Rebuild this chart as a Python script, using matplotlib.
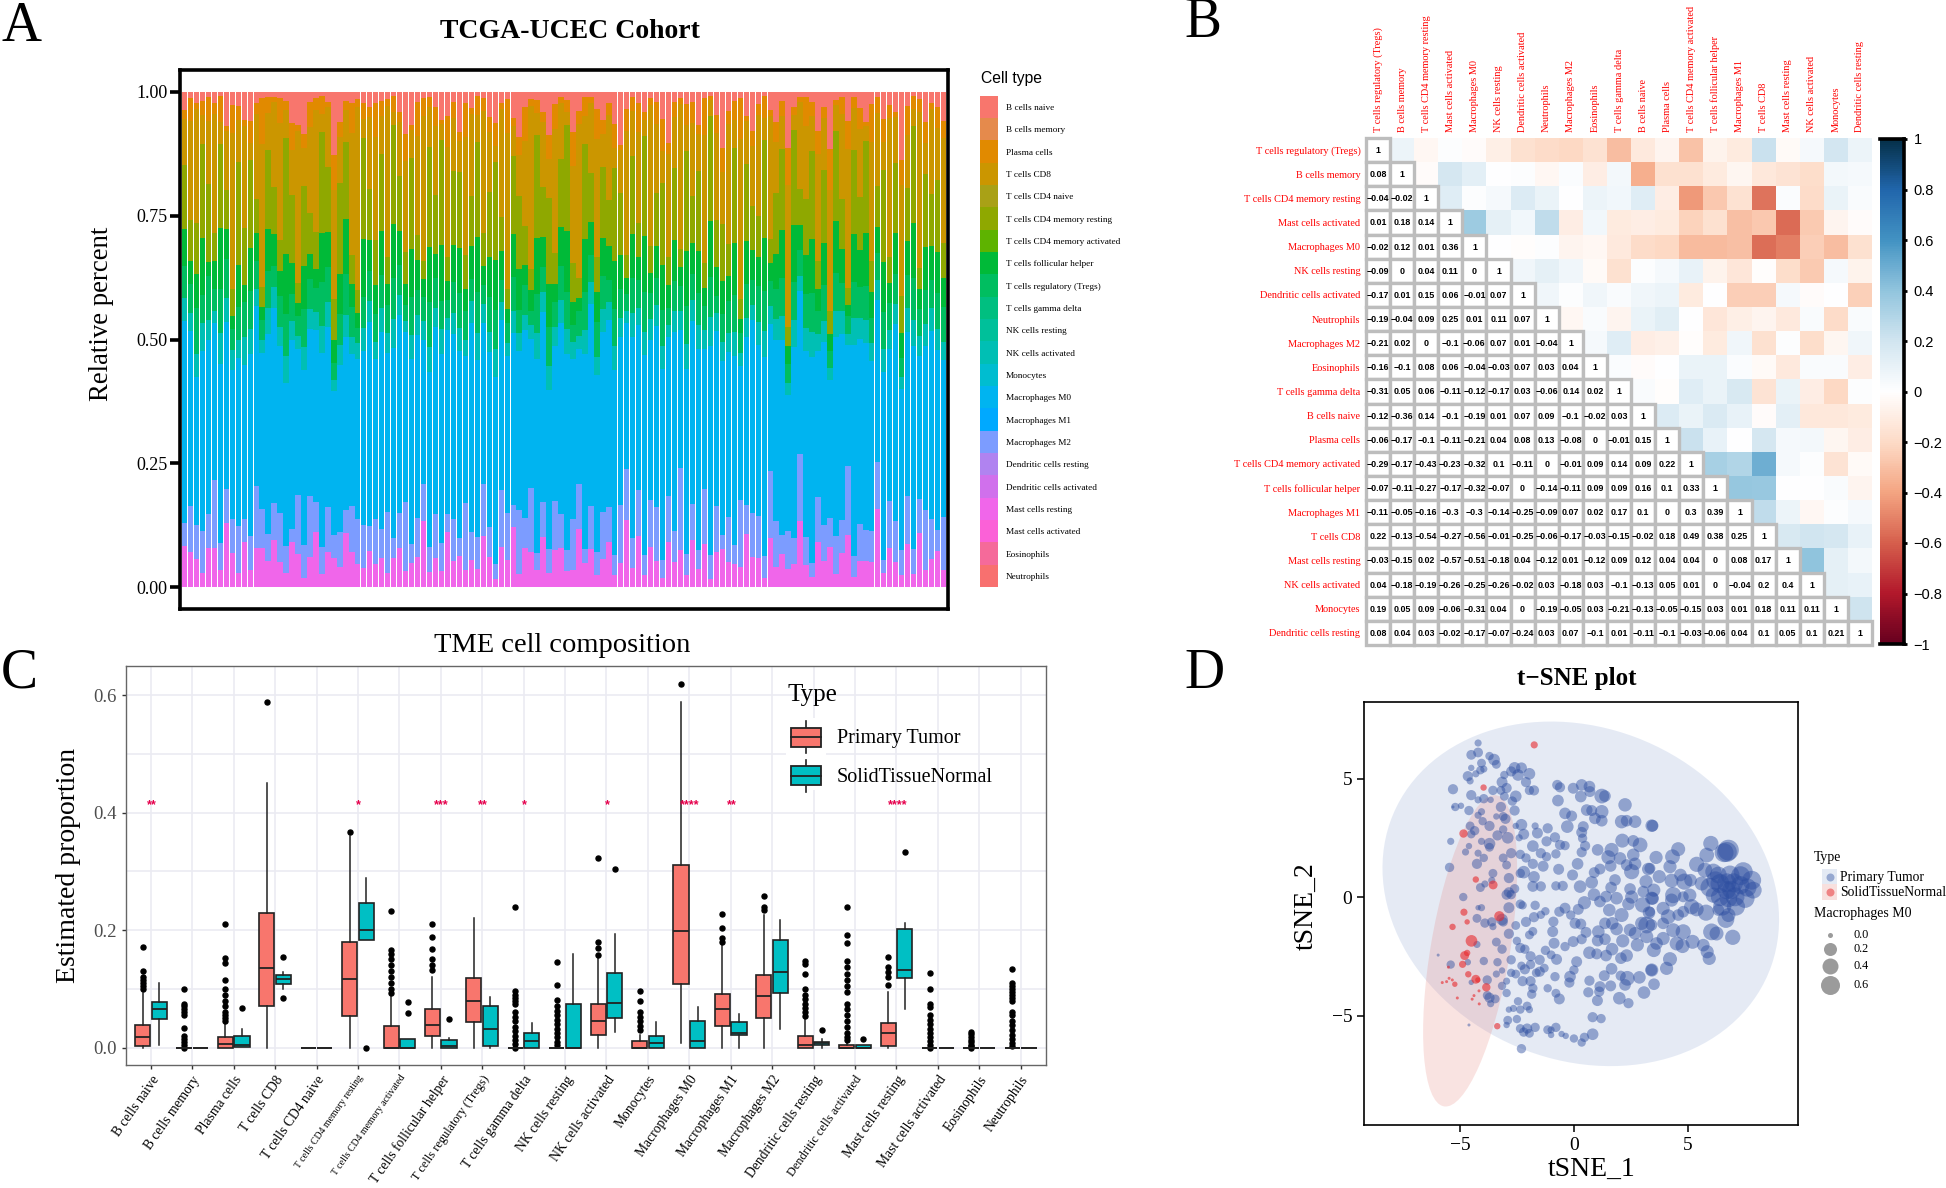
import numpy as np
import matplotlib
matplotlib.use('Agg')
import matplotlib.pyplot as plt
from matplotlib.colors import LinearSegmentedColormap, Normalize
from matplotlib.cm import ScalarMappable
from matplotlib.patches import Rectangle, Ellipse

plt.rcParams['font.family'] = ['Liberation Serif', 'DejaVu Serif']
SANS = 'Liberation Sans'
W, H = 1946, 1188

# ---- panel A: relative percent per sample (estimated by eye, normalised on drawing)
stack_names = ['B cells naive', 'Plasma cells', 'T cells CD8', 'T cells CD4 memory resting', 'T cells follicular helper',
               'T cells regulatory (Tregs)', 'NK cells activated', 'Macrophages M0', 'Macrophages M2', 'Mast cells resting']
b_naive = [4,1,2,2,1,2,1,7,2,3,5,7,2,1,1,1,1,2,7,5,9,2,1,1,2,11,6,2,2,1,3,3,
           2,2,1,1,4,8,7,2,1,1,3,7,4,2,9,2,3,1,1,5,8,2,1,6,10,3,1,2,4,9,2,1,
           2,7,3,1,1,3,6,2,8,11,3,1,2,5,1,2,6,9,2,1,3,2,7,1,1,4,12,3,2,1,5,8,
           2,1,3,6,2,9,4,1,1,2,7,3,10,2,1,5,1,3,8,2,1,6,2,4,11,3,1,1,7,2,3,5]
plasma = [2,4,1,3,5,2,6,1,4,3,1,5,2,7,3,1,4,2,6,1,3,5,2,4,1,6,3,2,5,1,4,2,
          6,3,1,4,2,5,1,7,3,2,4,1,5,3,2,6,1,4,2,3,6,1,5,2,4,7,1,3,2,5,4,1,
          3,6,2,4,1,5,3,2,6,1,4,3,5,2,1,4,7,2,3,1,5,4,2,6,1,3,5,2,4,6,1,3,
          2,5,1,4,3,6,2,1,5,3,4,2,7,1,3,5,2,4,1,6,3,5,2,1,4,6,3,2,5,1,4,3]
t_cd8 = [10,17,20,6,13,21,5,12,23,9,18,4,15,22,7,16,19,6,10,23,8,17,20,4,12,19,9,7,21,24,5,14,
         18,8,22,3,11,17,6,20,24,8,14,4,18,10,7,21,15,6,19,12,4,19,23,7,9,17,23,5,13,8,20,10,
         3,17,24,6,13,20,7,15,5,9,22,9,16,4,21,13,7,18,10,23,6,14,8,21,4,15,11,19,6,24,9,12,
         17,5,20,10,7,23,4,17,13,7,19,10,21,6,15,24,8,13,4,19,14,6,21,9,18,11,4,23,7,15,10,18]
cd4_rest = [14,7,9,20,16,5,19,8,4,22,10,21,6,3,15,9,5,25,15,3,17,8,6,23,13,7,18,17,5,3,26,10,
            8,16,4,24,11,6,19,5,3,20,12,26,4,14,17,6,9,21,5,13,25,6,3,18,16,8,3,24,10,18,5,12,
            26,7,3,20,9,6,15,8,23,13,4,16,6,25,4,10,18,5,14,3,24,9,17,4,26,8,12,5,20,3,16,9,
            7,22,4,12,17,3,25,7,10,18,5,14,4,21,9,3,16,10,24,5,8,20,4,14,6,11,23,3,17,9,14,6]
tfh = [8,4,6,12,3,5,14,6,2,9,3,10,5,2,8,6,4,13,7,2,9,5,3,11,7,4,8,12,4,2,15,6,
       5,9,3,13,7,4,10,6,3,11,5,14,3,7,10,4,6,12,3,8,13,5,2,10,9,4,3,13,6,9,3,7,
       15,4,2,11,6,5,8,6,12,7,3,9,4,14,3,6,10,4,8,3,13,6,9,3,14,5,7,4,11,2,9,6,
       5,12,3,7,10,3,15,5,7,11,4,8,3,12,6,2,9,7,14,4,5,11,3,8,4,7,13,3,10,6,8,5]
tregs = [7,5,8,6,9,4,10,8,3,7,6,9,5,3,7,4,5,9,6,3,8,6,4,10,7,3,6,9,5,2,8,6,
         5,7,4,10,6,3,8,5,4,9,6,7,3,6,8,5,4,9,3,7,10,4,3,8,5,6,2,9,5,8,4,6,
         9,3,4,8,5,6,7,4,9,6,3,7,5,10,4,5,8,3,6,4,9,5,7,4,10,3,6,5,8,3,7,5,
         6,9,4,6,8,3,10,5,6,8,4,7,3,9,5,3,7,6,9,4,5,8,4,6,3,7,10,4,8,5,7,6]
nk_act = [5,3,4,6,4,2,7,5,3,4,5,6,3,2,5,4,3,6,4,2,5,4,3,6,5,2,4,5,3,2,6,4,
          3,5,3,7,4,2,5,4,3,5,4,6,2,4,5,3,4,6,3,4,7,3,2,5,4,3,2,6,4,5,3,4,
          6,3,2,5,4,3,5,3,6,4,2,5,3,6,3,4,5,2,4,3,6,4,5,3,7,3,4,3,5,2,4,3,
          4,6,3,4,5,2,7,3,4,5,3,4,2,6,4,2,5,4,6,3,4,5,3,4,2,5,6,3,5,4,4,3]
m0_blue = [44,30,26,38,36,28,41,34,22,36,27,43,32,24,38,37,27,35,42,22,37,33,28,44,36,25,33,38,26,21,45,40,
           28,41,23,46,40,32,39,37,24,35,38,47,30,35,42,26,38,39,25,35,48,30,23,40,35,38,21,45,38,33,25,34,
           48,28,21,41,37,30,38,33,46,35,26,41,29,50,24,34,42,28,39,22,44,35,43,23,52,30,37,26,40,20,35,39,
           29,45,24,36,41,22,50,32,33,42,26,35,24,46,33,21,40,35,49,27,31,41,23,39,26,34,48,21,38,33,35,27]
m2 = [5,8,6,9,7,12,6,7,5,10,4,8,11,6,5,7,8,6,3,9,7,12,5,6,9,4,7,5,8,6,11,5,
      8,6,9,5,7,13,4,8,6,5,9,7,3,8,4,12,5,7,8,6,4,10,7,5,14,6,9,4,7,5,8,6,
      5,9,7,3,8,4,10,6,5,12,9,6,8,5,7,10,4,8,6,13,5,7,4,9,6,8,3,7,4,10,6,9,
      7,5,11,9,4,6,7,13,5,3,8,7,5,9,6,12,4,7,8,5,9,3,7,8,4,10,6,5,14,7,4,9]
mast = [9,6,5,3,8,7,4,13,5,3,8,4,7,6,5,9,4,3,10,5,2,6,9,3,7,5,4,12,6,3,5,7,
        4,6,2,7,8,3,5,6,11,3,6,4,9,5,7,3,5,4,8,6,2,7,4,14,3,8,5,4,10,3,6,7,
        4,3,9,5,7,2,6,8,3,5,12,4,9,3,6,5,2,8,5,6,3,9,4,7,2,6,8,4,5,3,11,6,
        5,2,8,4,7,3,6,13,4,2,8,5,7,3,6,9,2,5,7,4,15,3,6,5,2,9,3,8,4,5,7,3]

legend_types = ['B cells naive', 'B cells memory', 'Plasma cells', 'T cells CD8', 'T cells CD4 naive',
                'T cells CD4 memory resting', 'T cells CD4 memory activated', 'T cells follicular helper',
                'T cells regulatory (Tregs)', 'T cells gamma delta', 'NK cells resting', 'NK cells activated',
                'Monocytes', 'Macrophages M0', 'Macrophages M1', 'Macrophages M2', 'Dendritic cells resting',
                'Dendritic cells activated', 'Mast cells resting', 'Mast cells activated', 'Eosinophils', 'Neutrophils']
legend_colors = ['#F8766D', '#E58A4C', '#E18A00', '#CB9600', '#A9A116', '#8FA800', '#5EB300', '#00BA38',
                 '#00BE60', '#00BF80', '#00C09A', '#00BFB4', '#00BDD0', '#00B4F0', '#00A9FF', '#7C9CFF',
                 '#B083F0', '#D070EC', '#F066EA', '#FB61D7', '#F56A9A', '#F8706F']
stack_colors = [legend_colors[legend_types.index(n)] for n in stack_names]

# ---- panel B: lower triangle of the correlation matrix, as printed in the cells
corr_names = ['T cells regulatory (Tregs)', 'B cells memory', 'T cells CD4 memory resting', 'Mast cells activated',
              'Macrophages M0', 'NK cells resting', 'Dendritic cells activated', 'Neutrophils', 'Macrophages M2',
              'Eosinophils', 'T cells gamma delta', 'B cells naive', 'Plasma cells', 'T cells CD4 memory activated',
              'T cells follicular helper', 'Macrophages M1', 'T cells CD8', 'Mast cells resting',
              'NK cells activated', 'Monocytes', 'Dendritic cells resting']
corr_rows = [
    [0.08],
    [-0.04, -0.02],
    [0.01, 0.18, 0.14],
    [-0.02, 0.12, 0.01, 0.36],
    [-0.09, 0, 0.04, 0.11, 0],
    [-0.17, 0.01, 0.15, 0.06, -0.01, 0.07],
    [-0.19, -0.04, 0.09, 0.25, 0.01, 0.11, 0.07],
    [-0.21, 0.02, 0, -0.1, -0.06, 0.07, 0.01, -0.04],
    [-0.16, -0.1, 0.08, 0.06, -0.04, -0.03, 0.07, 0.03, 0.04],
    [-0.31, 0.05, 0.06, -0.11, -0.12, -0.17, 0.03, -0.06, 0.14, 0.02],
    [-0.12, -0.36, 0.14, -0.1, -0.19, 0.01, 0.07, 0.09, -0.1, -0.02, 0.03],
    [-0.06, -0.17, -0.1, -0.11, -0.21, 0.04, 0.08, 0.13, -0.08, 0, -0.01, 0.15],
    [-0.29, -0.17, -0.43, -0.23, -0.32, 0.1, -0.11, 0, -0.01, 0.09, 0.14, 0.09, 0.22],
    [-0.07, -0.11, -0.27, -0.17, -0.32, -0.07, 0, -0.14, -0.11, 0.09, 0.09, 0.16, 0.1, 0.33],
    [-0.11, -0.05, -0.16, -0.3, -0.3, -0.14, -0.25, -0.09, 0.07, 0.02, 0.17, 0.1, 0, 0.3, 0.39],
    [0.22, -0.13, -0.54, -0.27, -0.56, -0.01, -0.25, -0.06, -0.17, -0.03, -0.15, -0.02, 0.18, 0.49, 0.38, 0.25],
    [-0.03, -0.15, 0.02, -0.57, -0.51, -0.18, 0.04, -0.12, 0.01, -0.12, 0.09, 0.12, 0.04, 0.04, 0, 0.08, 0.17],
    [0.04, -0.18, -0.19, -0.26, -0.25, -0.26, -0.02, 0.03, -0.18, 0.03, -0.1, -0.13, 0.05, 0.01, 0, -0.04, 0.2, 0.4],
    [0.19, 0.05, 0.09, -0.06, -0.31, 0.04, 0, -0.19, -0.05, 0.03, -0.21, -0.13, -0.05, -0.15, 0.03, 0.01, 0.18, 0.11, 0.11],
    [0.08, 0.04, 0.03, -0.02, -0.17, -0.07, -0.24, 0.03, 0.07, -0.1, 0.01, -0.11, -0.1, -0.03, -0.06, 0.04, 0.1, 0.05, 0.1, 0.21],
]

# ---- panel C: box statistics
box_names = ['B cells naive', 'B cells memory', 'Plasma cells', 'T cells CD8', 'T cells CD4 naive',
             'T cells CD4 memory resting', 'T cells CD4 memory activated', 'T cells follicular helper',
             'T cells regulatory (Tregs)', 'T cells gamma delta', 'NK cells resting', 'NK cells activated',
             'Monocytes', 'Macrophages M0', 'Macrophages M1', 'Macrophages M2', 'Dendritic cells resting',
             'Dendritic cells activated', 'Mast cells resting', 'Mast cells activated', 'Eosinophils', 'Neutrophils']
tumor_q1 = [.003,0,0,.071,0,.053,0,.02,.044,0,0,.021,0,.109,.036,.051,0,0,.002,0,0,0]
tumor_med = [.018,0,.006,.135,0,.116,0,.039,.08,0,0,.045,0,.198,.065,.087,.004,0,.024,0,0,0]
tumor_q3 = [.039,0,.018,.23,0,.179,.036,.065,.119,0,0,.074,.011,.311,.091,.123,.019,.004,.041,0,0,0]
tumor_lo = [0,0,0,0,0,0,0,0,0,0,0,0,0,.007,0,0,0,0,0,0,0,0]
tumor_hi = [.093,0,.042,.45,0,.36,.087,.12,.22,0,0,.155,.022,.589,.176,.225,.048,.01,.094,0,0,0]
tumor_out = [
    [.172,.13,.12,.115,.11,.105,.10],
    [.10,.074,.07,.066,.06,.055,.033,.02,.015,.01,.005,0],
    [.21,.152,.144,.115,.099,.09,.08,.07,.06,.055,.05,.046],
    [.588],
    [],
    [.368],
    [.233,.167,.16,.15,.14,.13,.12,.11,.10,.093],
    [.21,.188,.168,.151,.14,.132],
    [],
    [.239,.096,.09,.085,.08,.075,.06,.052,.045,.035,.028,.02,.012,.006,0],
    [.145,.107,.081,.07,.062,.055,.047,.04,.032,.025,.018,.01,.004],
    [.323,.179,.169,.158],
    [.096,.079,.06,.052,.045,.036,.03],
    [.62],
    [.227,.203,.187,.179],
    [.258,.239,.235],
    [.148,.143,.126,.099,.09,.082,.075,.067,.06,.053],
    [.239,.191,.178,.148,.137,.125,.115,.105,.095,.075,.065,.055,.045,.035,.025,.018,.012],
    [.154,.137,.129,.12,.106],
    [.127,.10,.075,.069,.055,.047,.04,.032,.025,.018,.011,.005,0],
    [.027,.023,.018,.013,.009,.005,.002,0],
    [.134,.11,.105,.1,.095,.09,.085,.08,.06,.055,.045,.038,.03,.022,.015,.008,.002],
]
normal_q1 = [.048,0,.001,.108,0,.183,0,0,.002,0,0,.051,0,0,.021,.093,.005,0,.119,0,0,0]
normal_med = [.066,0,.005,.116,0,.20,0,.003,.032,.011,0,.076,.008,.011,.025,.129,.008,0,.132,0,0,0]
normal_q3 = [.078,0,.02,.123,0,.247,.015,.012,.071,.024,.074,.127,.019,.046,.043,.184,.01,.005,.202,0,0,0]
normal_lo = [.004,0,.001,.10,0,.183,0,0,0,0,0,.026,0,0,0,.032,0,0,.066,0,0,0]
normal_hi = [.11,0,.032,.129,0,.289,.015,.017,.086,.042,.16,.193,.044,.069,.057,.217,.014,.005,.213,0,0,0]
normal_out = [[],[],[.068],[.154,.084],[],[0],[.077,.059],[.048],[],[],[],[.305],[],[],[],[],[.029],[.014],[.334],[],[],[]]
star_names = ['B cells naive', 'T cells CD4 memory resting', 'T cells follicular helper', 'T cells regulatory (Tregs)',
              'T cells gamma delta', 'NK cells activated', 'Macrophages M0', 'Macrophages M1', 'Mast cells resting']
star_marks = ['**', '*', '***', '**', '*', '*', '****', '**', '****']
small_names = ['T cells CD4 memory resting', 'T cells CD4 memory activated']
medium_names = ['T cells regulatory (Tregs)', 'Dendritic cells activated']

# ---- panel D: t-SNE coordinates and Macrophages M0 fraction, read region by region
x_left = [-4.2,-4.2,-4.5,-4.05,-3.7,-3.5,-3.4,-4.5,-4.1,-4.3,-3.95,-4.65,-4.55,-5.3,-4.5,-4.2,-3.95,-3.55,-3.65,-3.2,
          -2.95,-3.05,-2.75,-2.6,-2.3,-2.45,-1.95,-2.1,-1.95,-1.75,-3.15,-2.55,-2.7,-3.05,-4.6,-5.2,-4.95,-5.3,-3.2,-4.2,
          -4.05,-3.4,-3.0,-3.1,-4.0,-3.7,-4.55,-4.35,-4.5,-3.35,-3.1,-2.9,-5.4,-4.05,-4.6,-3.7,-3.7,-2.6,-2.3,-2.55,
          -2.2,-2.4,-1.7,-1.6,-1.15,-1.8,-1.2,-4.75,-4.2,-3.95,-4.25,-5.45,-3.55,-3.6,-2.85,-2.95,-3.1,-2.75,-2.35,-2.1,
          -1.8,-1.35,-1.45,-1.2,-2.2,-2.35,-1.75,-1.8,-1.45,-4.1,-3.9,-4.85,-2.85,-2.6,-2.95,-2.75,-2.85,-2.35,-2.25,-1.7,
          -1.25,-1.75,-1.45,-2.1,-4.2,-4.05,-4.25,-3.9,-3.6,-3.55,-3.15,-3.1,-3.4,-2.55,-2.85,-1.95,-1.8,-2.5,-2.35,-2.15,
          -1.25,-3.15,-4.25,-4.65,-3.95,-3.35,-1.9,-1.5,-2.75,-2.3,-1.9,-2.15,-1.3,-1.5,-1.65,-5.95,-5.4,-3.15,-3.4,-3.8,
          -4.5,-3.15,-2.95,-2.75,-2.55,-2.25,-1.9,-1.8,-1.85,-1.15,-2.95,-3.8,-3.7,-3.45,-3.65,-2.45,-2.05,-2.35,-2.85,-2.65,
          -1.95,-2.9,-2.5,-2.95,-4.6,-2.35,-1.7,-2.05,-2.2,-1.95,-1.15,-2.3]
y_left = [6.5,6.1,6.0,5.65,5.95,5.8,5.6,5.45,5.35,5.2,5.4,5.1,4.9,4.55,4.3,4.1,4.15,4.5,4.1,4.5,
          4.6,5.15,5.3,5.45,5.45,5.15,5.2,4.85,4.5,4.5,4.85,4.25,4.05,4.25,3.65,3.8,3.85,3.8,3.8,3.45,
          3.6,3.4,3.3,3.4,3.2,3.0,3.0,2.8,2.65,2.6,2.85,2.5,2.35,2.35,2.15,2.25,2.1,3.65,3.05,3.0,
          2.65,2.5,3.0,2.7,2.9,2.15,2.35,1.9,1.85,1.65,1.4,1.25,1.0,.7,.8,1.35,1.65,1.85,1.8,1.65,
          1.4,1.3,1.85,1.7,1.05,1.0,.85,.45,.45,.4,.55,0.0,.2,.35,.1,.1,-.45,-.3,-.35,-.35,
          -.6,-.85,-.75,-1.05,-.45,-.45,-.9,-1.1,-1.05,-1.25,-.95,-1.05,-1.9,-1.2,-1.55,-1.6,-1.45,-1.85,-2.15,-2.2,
          -2.25,-2.2,-2.0,-2.75,-2.7,-2.75,-2.5,-2.65,-2.65,-2.9,-2.85,-3.05,-3.0,-3.15,-3.2,-2.45,-2.85,-3.1,-3.25,-3.5,
          -3.6,-3.75,-3.55,-3.2,-3.25,-3.55,-3.55,-3.85,-4.1,-3.85,-4.05,-4.15,-4.25,-4.3,-4.5,-4.4,-4.6,-4.75,-4.75,-4.7,
          -4.75,-5.2,-5.15,-5.4,-5.4,-5.55,-5.5,-5.55,-5.7,-5.75,-5.6,-6.4]
m_left = [.03,.08,.08,.06,.05,.13,.06,.02,.05,.03,.03,.09,.03,.09,.09,.03,.07,.07,.02,.06,
          .09,.05,.09,.13,.11,.13,.13,.09,.07,.09,.11,.13,.07,.06,.07,.05,.02,0,.09,.03,
          .03,.02,.09,.06,.05,.09,.06,.07,.05,.09,.05,.13,.03,.03,.02,.13,.06,.09,.13,.02,
          .11,.03,.03,.11,.09,.13,.09,.03,.03,.05,.09,.07,.06,.03,.09,.06,.06,.09,.07,.07,
          .09,.11,.09,.07,.16,.07,.13,.11,.09,.06,.03,.05,.09,.07,.09,.07,.11,.07,.05,.07,
          .05,.09,.05,.09,.01,.03,.06,.07,.07,.03,.13,.07,.06,.06,.09,.06,.06,.05,.09,.07,
          .07,.07,.03,.02,.05,.05,.09,.09,.07,.05,.07,.09,.06,.09,.06,0,.05,.02,.03,.07,
          .01,.05,.03,.05,.06,.09,.09,.07,.07,.05,.05,.06,.09,.06,.03,.05,.06,.05,.02,.03,
          .03,.06,.05,.02,0,.06,.07,.09,.07,.06,.06,.07]
x_mid = [-.73,-.61,-.03,.34,.68,.3,.7,1.22,1.36,-.7,2.24,.56,.78,1.22,.92,1.22,2.09,2.31,2.68,3.41,
         -.39,-.1,-.29,.41,.34,.38,-.83,-.61,-.39,.49,.34,1.04,-.79,.16,-.67,-.06,2.12,2.6,2.9,1.65,
         1.51,2.02,2.6,1.61,1.14,.89,.78,1.8,2.68,2.31,2.53,3.26,3.16,3.04,2.46,1.63,.27,-.49,-.79,.88,
         1.41,1.87,1.14,2.53,2.39,3.01,3.41,.46,-.39,-.64,-.14,.19,1.55,2.09,3.29,-.9,.05,.3,1.36,1.68,
         1.07,1.87,2.46,2.68,3.19,2.97,.53,-.93,-.87,-.39,-.03,.34,1.04,1.36,2.14,3.19,2.78,-1.0,.68,1.0,
         1.41,1.67,2.06,2.31,-.76,.12,0,-.17,-.2,-.83,.68,1.33,1.65,2.05,2.34,2.87,3.41,1.61,2.24,1.14,
         1.11,.63,3.51,3.07,1.03,1.99,2.39,-.79,-.64,.82,1.19,-.79,-.54,-.36,0,.46,.82,.34,-1.0,-1.0]
y_mid = [4.73,4.63,4.59,4.73,4.66,4.24,4.45,4.26,4.26,4.07,3.89,3.67,3.65,3.6,3.32,3.22,3.18,3.22,3.18,3.01,
         3.53,3.42,2.97,2.97,2.73,2.48,2.52,2.2,2.17,2.16,1.89,1.99,1.82,1.4,1.17,.93,2.38,2.37,2.2,1.99,
         1.68,1.63,1.78,1.31,1.18,1.03,.62,.72,1.4,1.35,1.07,1.18,.65,.23,.34,.4,.44,.47,.47,.1,
         .02,-.05,-.19,0.0,-.29,-.33,-.05,-.24,-.47,-.62,-.76,-.52,-.55,-.76,-.66,-1.04,-1.11,-1.14,-1.11,-1.11,
         -1.46,-1.35,-1.39,-1.53,-1.18,-1.11,-1.49,-1.46,-1.95,-2.09,-1.88,-1.78,-1.84,-1.78,-1.85,-1.67,-2.02,-2.44,-2.35,-2.4,
         -2.47,-2.2,-2.58,-2.47,-2.63,-2.73,-3.08,-3.36,-3.61,-3.36,-3.53,-3.32,-3.03,-3.32,-3.43,-3.39,-3.08,-3.75,-3.71,-3.78,
         -3.99,-4.02,-3.68,-4.03,-4.37,-4.27,-4.48,-4.06,-4.3,-5.07,-5.13,-5.5,-5.78,-5.86,-5.97,-5.92,-5.79,-6.14,-5.61,-5.82]
m_mid = [.09,.09,.11,.13,.13,.13,.11,.24,.13,.13,.19,.13,.11,.19,.13,.13,.19,.13,.16,.16,
         .13,.11,.16,.11,.11,.07,.09,.09,.07,.09,.09,.13,.07,.13,.11,.11,.21,.13,.24,.21,
         .21,.16,.16,.13,.11,.11,.16,.13,.16,.13,.26,.16,.18,.13,.13,.13,.16,.09,.07,.16,
         .13,.16,.13,.18,.16,.26,.18,.18,.11,.09,.07,.11,.16,.21,.16,.09,.11,.11,.13,.16,
         .16,.16,.16,.16,.33,.18,.11,.11,.11,.07,.11,.09,.13,.13,.18,.18,.18,.06,.16,.11,
         .13,.16,.13,.16,.11,.11,.07,.13,.09,.07,.09,.11,.13,.09,.24,.16,.18,.11,.13,.11,
         .09,.09,.13,.16,.11,.16,.09,.06,.11,.09,.07,.07,.02,.02,.05,.07,.13,.05,.03,.02]
x_right = [3.45,4.57,3.6,4.32,4.21,6.0,5.82,6.58,6.77,5.38,5.74,6.11,3.33,3.74,4.67,4.28,4.84,5.11,5.6,6.33,
           6.84,7.42,7.79,5.96,6.4,6.69,7.06,7.5,7.86,6.77,6.11,4.35,3.5,3.45,4.28,5.08,4.79,5.16,5.38,5.79,
           3.91,3.33,4.79,4.13,4.57,6.33,6.66,6.77,3.4,3.91,6.03,6.25,4.35,4.79,4.5,4.76,5.2,6.96,3.91,3.62,
           3.5,5.67,5.84,5.93,4.21,4.06,3.4,6.7,6.7,7.0,7.3,6.4,7.3,6.9,6.2,7.6,6.5,7.1]
y_right = [3.01,2.02,1.67,1.7,1.28,2.26,1.77,1.87,1.98,1.38,1.14,1.07,1.21,.86,.93,.69,.65,.71,.57,.93,
           .93,1.07,.71,.41,.57,.29,.01,-.06,.29,-.06,.08,.08,.29,-.06,-.13,.08,.01,-.41,-.52,-.66,
           -.48,-.62,-.62,-.83,-.76,-.55,-.95,-.76,-1.18,-1.11,-1.47,-1.54,-1.4,-1.47,-1.96,-2.07,-1.89,-1.7,-1.75,-1.96,
           -2.24,-2.03,-2.31,-2.59,-2.62,-3.01,-3.08,1.9,.6,.6,.5,0.0,.9,.3,.7,.4,-.4,-.4]
m_right = [.13,.21,.18,.24,.18,.26,.24,.44,.55,.26,.24,.3,.11,.18,.16,.21,.3,.16,.21,.33,
           .44,.44,.44,.44,.44,.4,.44,.44,.33,.37,.26,.3,.18,.16,.18,.18,.11,.26,.21,.3,
           .18,.09,.13,.24,.13,.13,.33,.21,.13,.13,.33,.21,.21,.26,.21,.21,.21,.26,.18,.16,
           .21,.16,.18,.18,.21,.18,.13,.5,.44,.44,.4,.4,.44,.4,.4,.4,.4,.4]
x_normal = [-1.74,-3.96,-4.84,-4.3,-3.54,-4.82,-4.68,-5.32,-3.27,-4.49,-4.68,-4.79,-4.88,-5.5,-4.63,-4.3,-4.21,-5.47,-5.77,-5.58,
            -5.33,-5.22,-4.16,-3.84,-4.38,-4.46,-5.11,-4.15,-3.36]
y_normal = [6.42,4.62,2.68,.74,.51,-.64,-1.05,-1.26,-.81,-1.85,-2.36,-2.47,-2.84,-2.96,-3.26,-3.47,-3.5,-3.43,-3.61,-3.57,
            -3.5,-3.68,-3.96,-3.81,-4.16,-4.31,-4.26,-4.51,-5.45]
m_normal = [.03,.02,.05,.02,.06,.03,.01,.02,.09,.13,.02,.06,.03,0,.02,.06,.01,0,0,0,
            0,.01,0,.05,0,0,0,0,.02]
size_values = ['0.0', '0.2', '0.4', '0.6']


def ax_px(l, t, r, b):
    return fig.add_axes([l / W, 1 - b / H, (r - l) / W, (b - t) / H])


def px_size(d):
    # marker area in points^2 from a diameter in pixels
    return (np.asarray(d) * 0.72) ** 2


def m0_size(m):
    return px_size(3 + 24 * np.sqrt(np.asarray(m, dtype=float)))


def ellipse(ax, cx, cy, ex, ey, rho, color, alpha):
    cov = np.array([[ex ** 2, rho * ex * ey], [rho * ex * ey, ey ** 2]])
    vals, vecs = np.linalg.eigh(cov)
    angle = np.degrees(np.arctan2(vecs[1, 1], vecs[0, 1]))
    ax.add_patch(Ellipse((cx, cy), 2 * np.sqrt(vals[1]), 2 * np.sqrt(vals[0]), angle=angle,
                         facecolor=color, edgecolor='none', alpha=alpha, zorder=1))


def box_stats(q1, med, q3, lo, hi, out):
    return [dict(q1=a, med=b, q3=c, whislo=d, whishi=e, fliers=f) for a, b, c, d, e, f in zip(q1, med, q3, lo, hi, out)]


fig = plt.figure(figsize=(W / 100, H / 100), dpi=100, facecolor='white')

# ---------------- A
axa = ax_px(180, 70, 948, 609)
stack = np.array([b_naive, plasma, t_cd8, cd4_rest, tfh, tregs, nk_act, m0_blue, m2, mast], dtype=float)
stack = stack / stack.sum(axis=0)
xa = np.arange(stack.shape[1])
top = np.ones(stack.shape[1])
for vals, col in zip(stack, stack_colors):
    axa.bar(xa, vals, bottom=top - vals, width=0.9, color=col, linewidth=0)
    top = top - vals
axa.set_xlim(-0.75, 127.75)
axa.set_ylim(-0.044, 1.044)
axa.set_xticks([])
axa.set_yticks([0, .25, .5, .75, 1])
axa.set_yticklabels(['0.00', '0.25', '0.50', '0.75', '1.00'], fontsize=13)
axa.tick_params(axis='y', length=7, width=2.6, pad=2)
for s in axa.spines.values():
    s.set_linewidth(2.6)
axa.set_ylabel('Relative percent', fontsize=19.3)
axa.yaxis.set_label_coords(-.086, .547)

# ---------------- B
n = len(corr_names)
corr = np.eye(n)
for i, row in enumerate(corr_rows):
    for j, v in enumerate(row):
        corr[i + 1, j] = v
        corr[j, i + 1] = v
cmap_b = LinearSegmentedColormap.from_list('corr', ['#67001f', '#b2182b', '#d6604d', '#f4a582', '#fddbc7', '#ffffff',
                                                    '#d1e5f0', '#92c5de', '#4393c3', '#2166ac', '#053049'])
axb = ax_px(1366, 138, 1872, 645)
upper = np.triu(np.ones((n, n), dtype=bool), 1)
axb.pcolormesh(np.ma.array(corr, mask=~upper), cmap=cmap_b, vmin=-1, vmax=1, linewidth=0)
axb.set_xlim(0, n)
axb.set_ylim(n, 0)
for i in range(n):
    for j in range(i + 1):
        axb.add_patch(Rectangle((j, i), 1, 1, facecolor='white', edgecolor='#bdbdbd', linewidth=2.4, clip_on=False))
        txt = ('%g' % corr[i, j]).replace('-', '\u2212')
        axb.text(j + .5, i + .52, txt, ha='center', va='center', fontsize=6.4, fontweight='bold', family=SANS, color='black')
axb.xaxis.tick_top()
axb.set_xticks(np.arange(n) + .5)
axb.set_yticks(np.arange(n) + .5)
axb.set_xticklabels(corr_names, rotation=90, color='red', fontsize=7.4)
axb.set_yticklabels(corr_names, color='red', fontsize=7.4)
axb.tick_params(length=0, pad=4)
for s in axb.spines.values():
    s.set_visible(False)

caxb = ax_px(1880, 139, 1904, 644)
cb = fig.colorbar(ScalarMappable(norm=Normalize(-1, 1), cmap=cmap_b), cax=caxb)
cb.set_ticks(np.arange(-1, 1.01, .2))
cb.set_ticklabels(['\u22121', '\u22120.8', '\u22120.6', '\u22120.4', '\u22120.2', '0', '0.2', '0.4', '0.6', '0.8', '1'],
                  fontsize=10.5, family=SANS)
cb.outline.set_linewidth(0)
caxb.tick_params(length=2, width=2, pad=5)
for side in ['top', 'right', 'bottom']:
    caxb.spines[side].set_visible(True)
    caxb.spines[side].set_linewidth(2.6)
    caxb.spines[side].set_color('black')

# ---------------- C
axc = ax_px(126, 665.5, 1045.5, 1065)
axc.set_axisbelow(True)
axc.set_yticks([.1, .3, .5], minor=True)
axc.grid(which='both', color='#ebebf2', linewidth=1.2)
pos = np.arange(len(box_names))
common = dict(widths=.366, patch_artist=True, showcaps=False, manage_ticks=False,
              medianprops=dict(color='#222222', linewidth=1.3),
              whiskerprops=dict(color='#222222', linewidth=1.1),
              flierprops=dict(marker='o', markersize=3.6, markerfacecolor='black', markeredgecolor='black'))
axc.bxp(box_stats(tumor_q1, tumor_med, tumor_q3, tumor_lo, tumor_hi, tumor_out), positions=pos - .2,
        boxprops=dict(facecolor='#F8766D', edgecolor='#222222', linewidth=1.2), **common)
axc.bxp(box_stats(normal_q1, normal_med, normal_q3, normal_lo, normal_hi, normal_out), positions=pos + .2,
        boxprops=dict(facecolor='#00BFC4', edgecolor='#222222', linewidth=1.2), **common)
for name, mark in zip(star_names, star_marks):
    axc.text(box_names.index(name) + .02, .4125, mark, color='#e6004c', fontsize=9, ha='center', va='center',
             fontweight='bold', family=SANS)
axc.set_xlim(-.6, 21.6)
axc.set_ylim(-.0298, .651)
axc.set_yticks([0, .2, .4, .6])
axc.set_yticklabels(['0.0', '0.2', '0.4', '0.6'], fontsize=13.5, color='#4d4d4d')
axc.set_xticks(pos)
axc.set_xticklabels(box_names, rotation=55, ha='right', rotation_mode='anchor')
for lab, name in zip(axc.get_xticklabels(), box_names):
    if name in small_names:
        lab.set_fontsize(7)
    elif name in medium_names:
        lab.set_fontsize(8.8)
    else:
        lab.set_fontsize(9.8)
axc.tick_params(axis='both', which='major', length=3, width=1, color='#333333')
axc.tick_params(axis='x', pad=3)
axc.tick_params(which='minor', length=0)
for s in axc.spines.values():
    s.set_color('#666666')
    s.set_linewidth(1)
axc.set_ylabel('Estimated proportion', fontsize=20, labelpad=9)

# ---------------- D
axd = ax_px(1364, 702, 1798, 1125)
ellipse(axd, 0.3, 0.135, 8.69, 7.27, -0.15, '#7f98cc', .2)
ellipse(axd, -4.55, -2.27, 2.06, 6.57, 0.52, '#e8807a', .22)
axd.scatter(x_left + x_mid + x_right, y_left + y_mid + y_right, s=m0_size(m_left + m_mid + m_right),
            color='#2c4da0', alpha=.46, linewidth=0, zorder=2)
axd.scatter(x_normal, y_normal, s=m0_size(m_normal), color='#e8282c', alpha=.6, linewidth=0, zorder=3)
axd.set_xlim(-9.2, 9.82)
axd.set_ylim(-9.62, 8.23)
axd.set_xticks([-5, 0, 5])
axd.set_yticks([-5, 0, 5])
axd.set_xticklabels(['\u22125', '0', '5'], fontsize=14)
axd.set_yticklabels(['\u22125', '0', '5'], fontsize=14)
axd.tick_params(length=5, width=1.1)
for s in axd.spines.values():
    s.set_linewidth(1.2)
axd.set_xlabel('tSNE_1', fontsize=20)
axd.set_ylabel('tSNE_2', fontsize=20)
axd.xaxis.set_label_coords(.525, -.075)
axd.yaxis.set_label_coords(-.105, .518)

# ---------------- titles, letters and hand placed legends in pixel coordinates
over = fig.add_axes([0, 0, 1, 1], facecolor='none', zorder=5)
over.set_xlim(0, W)
over.set_ylim(H, 0)
over.axis('off')

for letter, x, y in [('A', 1, 41), ('B', 1184, 37), ('C', 1, 687), ('D', 1184, 688)]:
    over.text(x, y, letter, fontsize=40, ha='left', va='baseline')
over.text(570, 31, 'TCGA-UCEC Cohort', fontsize=20, fontweight='bold', ha='center', va='center')
over.text(562, 646, 'TME cell composition', fontsize=20.5, ha='center', va='center')
over.text(1577, 678, 't\u2212SNE plot', fontsize=18, fontweight='bold', ha='center', va='center')

# A legend
over.text(981, 79, 'Cell type', fontsize=11.3, family=SANS, ha='left', va='center')
key_h = (587 - 95.7) / len(legend_types)
for i, (name, col) in enumerate(zip(legend_types, legend_colors)):
    y0 = 95.7 + i * key_h
    over.add_patch(Rectangle((980, y0), 18, key_h + .4, facecolor=col, edgecolor='none'))
    over.text(1006, y0 + key_h / 2 + 1, name, fontsize=6.7, ha='left', va='center')

# C legend
over.add_patch(Rectangle((786, 718), 40, 72, facecolor='white', edgecolor='none'))
over.text(787, 695, 'Type', fontsize=18, ha='left', va='center')
for y_mid_key, col, name in [(737, '#F8766D', 'Primary Tumor'), (775.5, '#00BFC4', 'SolidTissueNormal')]:
    over.plot([806, 806], [y_mid_key - 16, y_mid_key + 16], color='#222222', lw=1.2)
    over.add_patch(Rectangle((791, y_mid_key - 9.5), 30, 19, facecolor=col, edgecolor='#222222', linewidth=1.3, zorder=3))
    over.plot([791, 821], [y_mid_key, y_mid_key], color='#222222', lw=1.3, zorder=4)
    over.text(837, y_mid_key + 2, name, fontsize=14.5, ha='left', va='center')

# D legend
over.text(1814, 858, 'Type', fontsize=10, ha='left', va='center')
for y, bg, col, alpha, name in [(877, '#e4eaf4', '#2c4da0', .42, 'Primary Tumor'), (892, '#f8e0de', '#e8282c', .5, 'SolidTissueNormal')]:
    over.add_patch(Rectangle((1822, y - 8), 15, 15.5, facecolor=bg, edgecolor='none'))
    over.scatter([1829.5], [y], s=px_size(8), color=col, alpha=alpha, linewidth=0)
    over.text(1840, y, name, fontsize=9.8, ha='left', va='center')
over.text(1814, 913, 'Macrophages M0', fontsize=10, ha='left', va='center')
for y, d, lab in zip([935, 949, 966, 985], [5, 13, 16, 19], size_values):
    over.scatter([1830], [y], s=px_size(d), color='#666666', alpha=.65, linewidth=0)
    over.text(1853, y, lab, fontsize=8.8, ha='left', va='center')

fig.savefig('out.png', dpi=100)
